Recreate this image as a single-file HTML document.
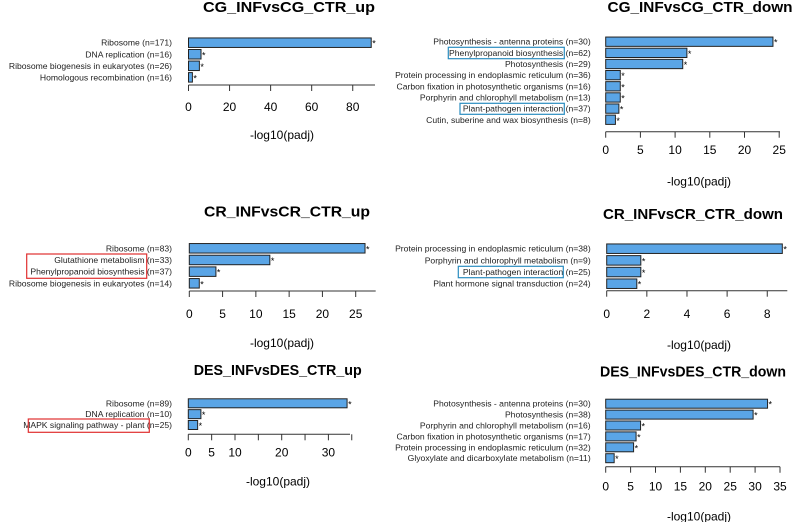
<!DOCTYPE html>
<html><head><meta charset="utf-8"><style>
html,body{margin:0;padding:0;background:#fff;}
svg{display:block;font-family:"Liberation Sans",Arial,sans-serif;}
</style></head><body>
<svg id="fig" width="798" height="522" viewBox="0 0 798 522" xmlns="http://www.w3.org/2000/svg"></svg>
<script>
const cgUpCats=["Ribosome (n=171)","DNA replication (n=16)","Ribosome biogenesis in eukaryotes (n=26)","Homologous recombination (n=16)"];
const cgUpVals=[89,6.1,5.3,1.9];
const cgUpTicks=[0,20,40,60,80];
const cgDownCats=["Photosynthesis - antenna proteins (n=30)","Phenylpropanoid biosynthesis (n=62)","Photosynthesis (n=29)","Protein processing in endoplasmic reticulum (n=36)","Carbon fixation in photosynthetic organisms (n=16)","Porphyrin and chlorophyll metabolism (n=13)","Plant-pathogen interaction (n=37)","Cutin, suberine and wax biosynthesis (n=8)"];
const cgDownVals=[24.1,11.7,11.1,2.1,2.1,2.1,1.9,1.4];
const cgDownTicks=[0,5,10,15,20,25];
const crUpCats=["Ribosome (n=83)","Glutathione metabolism (n=33)","Phenylpropanoid biosynthesis (n=37)","Ribosome biogenesis in eukaryotes (n=14)"];
const crUpVals=[26.4,12.1,4.0,1.5];
const crUpTicks=[0,5,10,15,20,25];
const crDownCats=["Protein processing in endoplasmic reticulum (n=38)","Porphyrin and chlorophyll metabolism (n=9)","Plant-pathogen interaction (n=25)","Plant hormone signal transduction (n=24)"];
const crDownVals=[8.75,1.7,1.7,1.5];
const crDownTicks=[0,2,4,6,8];
const desUpCats=["Ribosome (n=89)","DNA replication (n=10)","MAPK signaling pathway - plant (n=25)"];
const desUpVals=[34,2.7,2.0];
const desUpTicks=[0,5,10,15,20,25,30,35];
const desUpTickLabels=["0","5","10","","20","","30",""];
const desDownCats=["Photosynthesis - antenna proteins (n=30)","Photosynthesis (n=38)","Porphyrin and chlorophyll metabolism (n=16)","Carbon fixation in photosynthetic organisms (n=17)","Protein processing in endoplasmic reticulum (n=32)","Glyoxylate and dicarboxylate metabolism (n=11)"];
const desDownVals=[32.5,29.6,7.0,6.1,5.6,1.7];
const desDownTicks=[0,5,10,15,20,25,30,35];

const NS="http://www.w3.org/2000/svg";
const svg=document.getElementById('fig');
function mk(tag,attrs,parent){const e=document.createElementNS(NS,tag);for(const k in attrs)e.setAttribute(k,attrs[k]);(parent||svg).appendChild(e);return e;}

function panel(id,title,cats,vals,ticks,tickLabels,L){
  const g=mk('g',{});
  
  
  const sx=v=>L.x0+v*L.scale;
  const sy=i=>L.row0+i*L.pitch;
  const t=mk('text',{x:L.tx,y:L.ty+5,'text-anchor':'middle','font-size':15,'font-weight':'bold',fill:'#000',textLength:L.tw,lengthAdjust:'spacingAndGlyphs'},g);
  t.textContent=title;
  
  
  cats.forEach((c,i)=>{
    const y=sy(i);
    const lab=mk('text',{x:L.lr,y:y+3,'text-anchor':'end','font-size':8.6,fill:'#222'},g);
    lab.textContent=c;
    
    
    const b=mk('rect',{x:sx(0),y:y-L.bh/2,width:sx(vals[i])-sx(0),height:L.bh,fill:'#5aa5e6',stroke:'#222','stroke-width':1},g);
    
    
    const s=mk('text',{x:sx(vals[i])+1,y:y+4,'font-size':9,fill:'#000'},g);
    s.textContent='*';
    
    
  });
  const ax=mk('line',{x1:sx(0),x2:L.axEnd,y1:L.axY,y2:L.axY,stroke:'#333','stroke-width':1},g);
  
  
  ticks.forEach((tv,i)=>{
    const tk=mk('line',{x1:sx(tv),x2:sx(tv),y1:L.axY,y2:L.axY+6,stroke:'#333','stroke-width':1},g);
    
    
    const txt=tickLabels?tickLabels[i]:String(tv);
    if(txt){
      const tl=mk('text',{x:sx(tv),y:L.tlY+4,'text-anchor':'middle','font-size':12,fill:'#000'},g);
      tl.textContent=txt;
      
      
    }
  });
  const xl=mk('text',{x:L.xlX,y:L.xlY+4,'text-anchor':'middle','font-size':12,fill:'#000'},g);
  xl.textContent='-log10(padj)';
  
  
}

panel('cg-up','CG_INFvsCG_CTR_up',cgUpCats,cgUpVals,cgUpTicks,null,
 {x0:188.5,scale:2.053,axEnd:375,row0:42.7,pitch:11.55,bh:9.5,axY:85,tlY:107,xlX:282,xlY:135,tx:289,ty:7,tw:172,lr:172});
panel('cg-down','CG_INFvsCG_CTR_down',cgDownCats,cgDownVals,cgDownTicks,null,
 {x0:605.7,scale:6.94,axEnd:780,row0:41.7,pitch:11.15,bh:9.3,axY:131.7,tlY:150,xlX:699,xlY:181.7,tx:700,ty:7,tw:185,lr:590.7});
panel('cr-up','CR_INFvsCR_CTR_up',crUpCats,crUpVals,crUpTicks,null,
 {x0:189.3,scale:6.656,axEnd:375.7,row0:248.3,pitch:11.67,bh:9.5,axY:291,tlY:314,xlX:282,xlY:343,tx:287,ty:211.7,tw:166,lr:172});
panel('cr-down','CR_INFvsCR_CTR_down',crDownCats,crDownVals,crDownTicks,null,
 {x0:606.7,scale:20.07,axEnd:787.3,row0:248.7,pitch:11.67,bh:9.5,axY:290.7,tlY:314,xlX:699,xlY:345,tx:693,ty:214,tw:180,lr:590.7});
panel('des-up','DES_INFvsDES_CTR_up',desUpCats,desUpVals,desUpTicks,desUpTickLabels,
 {x0:188.3,scale:4.67,axEnd:350,row0:403.3,pitch:10.85,bh:9,axY:434.3,tlY:452.7,xlX:278,xlY:481.7,tx:277.7,ty:370,tw:168,lr:172});
panel('des-down','DES_INFvsDES_CTR_down',desDownCats,desDownVals,desDownTicks,null,
 {x0:605.7,scale:4.98,axEnd:780,row0:403.7,pitch:10.9,bh:9,axY:466.7,tlY:486.7,xlX:699,xlY:516.7,tx:693,ty:371.7,tw:186,lr:590.7});

function box(name,x1,y1,x2,y2,color){
  const r=mk('rect',{x:x1,y:y1,width:x2-x1,height:y2-y1,fill:'none',stroke:color,'stroke-width':1.2});
  
  
}
box('highlight-phenylpropanoid-cg',448.3,47.3,564.3,58.7,'#2a8cc0');
box('highlight-plant-pathogen-cg',460,103.3,564.3,114.3,'#2a8cc0');
box('highlight-plant-pathogen-cr',458.3,266.3,563.3,277.7,'#2a8cc0');
box('highlight-glutathione-phenylpropanoid-cr',26.7,254,146.7,278.3,'#e03030');
box('highlight-mapk-des',28.3,419,149.3,432.3,'#e03030');
</script>
</body></html>
